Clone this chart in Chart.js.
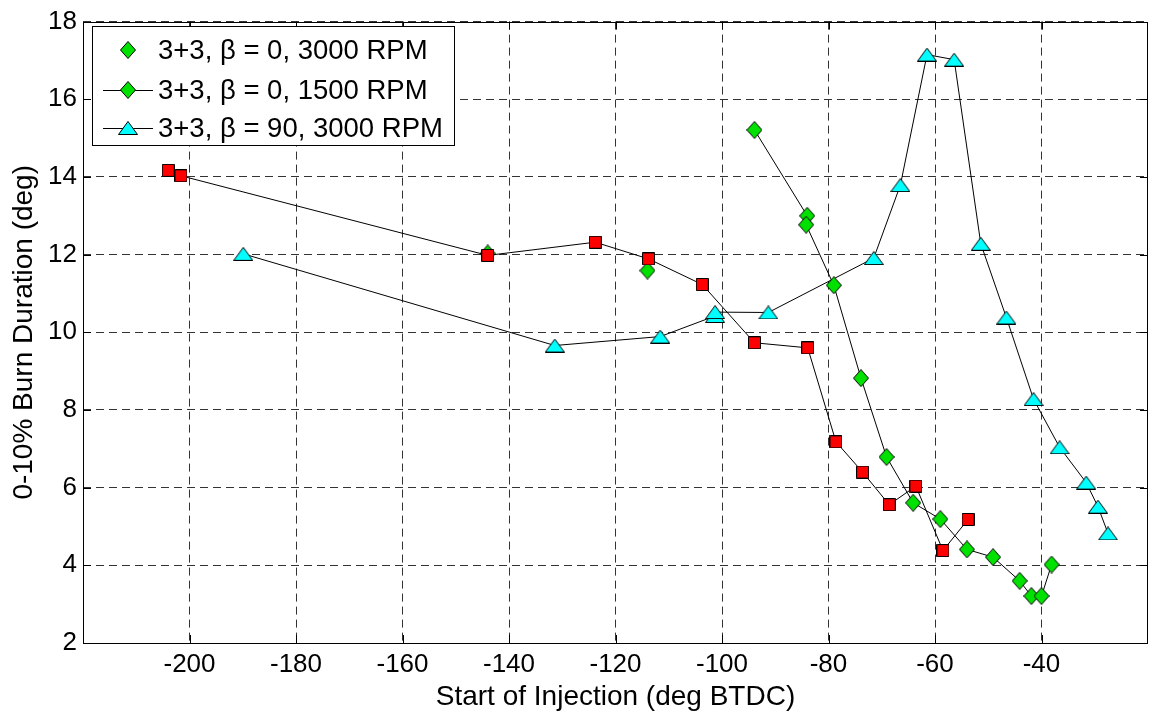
<!DOCTYPE html>
<html>
<head>
<meta charset="utf-8">
<script src="https://cdn.jsdelivr.net/npm/chart.js@4/dist/chart.umd.min.js"></script>
<style>
  html, body { margin: 0; padding: 0; background: #fff; }
  #wrap { width: 1155px; height: 715px; }
</style>
</head>
<body>
<div id="wrap"><canvas id="burnChart" width="1155" height="715"></canvas></div>
<script>
// 3+3, beta = 0, 3000 RPM (markers only)
const g3000X = [-144.0, -114.0];
const g3000Y = [12.03, 11.59];

// 3+3, beta = 0, 1500 RPM
const g1500X = [-93.9, -84.0, -84.2, -79.0, -73.9, -69.1, -64.1, -59.0, -54.0, -49.1, -44.1, -41.9, -40.0, -38.1];
const g1500Y = [15.21, 13.0, 12.77, 11.21, 8.82, 6.79, 5.61, 5.19, 4.41, 4.21, 3.60, 3.21, 3.21, 4.02];

// 3+3, beta = 90, 3000 RPM
const cyanX = [-189.9, -131.4, -111.6, -101.3, -101.3, -91.3, -71.5, -66.5, -61.5, -56.4, -51.4, -46.6, -41.5, -36.6, -31.6, -29.4, -27.5];
const cyanY = [12.02, 9.66, 9.89, 10.42, 10.52, 10.51, 11.91, 13.79, 17.15, 17.02, 12.28, 10.38, 8.28, 7.04, 6.13, 5.51, 4.82];

// red squares (no legend entry)
const redX = [-204.0, -201.6, -144.0, -123.8, -113.8, -103.7, -93.9, -83.9, -78.6, -73.6, -68.6, -63.6, -58.5, -53.8];
const redY = [14.17, 14.03, 11.98, 12.32, 11.89, 11.23, 9.73, 9.60, 7.18, 6.40, 5.56, 6.04, 4.38, 5.18];

// axis ticks
const xTicks = [-200, -180, -160, -140, -120, -100, -80, -60, -40];
const yTicks = [2, 4, 6, 8, 10, 12, 14, 16, 18];

const legendLabels = ['3+3, \u03b2 = 0, 3000 RPM', '3+3, \u03b2 = 0, 1500 RPM', '3+3, \u03b2 = 90, 3000 RPM'];

const FONT = '"Liberation Sans", Arial, sans-serif';
const GREEN = '#00e100';

// small canvases used as marker images (MATLAB style markers)
function makeMarker(w, h, fill, pts) {
  const c = document.createElement('canvas');
  c.width = w;
  c.height = h;
  const ctx = c.getContext('2d');
  ctx.beginPath();
  pts.forEach(([px, py], i) => (i ? ctx.lineTo(px, py) : ctx.moveTo(px, py)));
  ctx.closePath();
  ctx.fillStyle = fill;
  ctx.fill();
  ctx.strokeStyle = '#000';
  ctx.lineWidth = 1;
  ctx.stroke();
  return c;
}
const diamond = makeMarker(16, 18, GREEN, [[8, 0.5], [15.5, 9], [8, 17.5], [0.5, 9]]);
const square = makeMarker(13, 13, '#ff0000', [[0.5, 0.5], [12.5, 0.5], [12.5, 12.5], [0.5, 12.5]]);
const triangle = makeMarker(20, 14, '#00ffff', [[10, 0.5], [19.5, 13.5], [0.5, 13.5]]);

const toPoints = (xs, ys) => xs.map((x, i) => ({ x: x, y: ys[i] }));

// frame: axes box plus inward tick marks
const framePlugin = {
  id: 'frame',
  afterDraw(chart) {
    const { ctx, chartArea: a, scales } = chart;
    ctx.save();
    ctx.strokeStyle = '#000';
    ctx.lineWidth = 1;
    ctx.beginPath();
    xTicks.forEach(v => {
      const px = Math.round(scales.x.getPixelForValue(v)) + 0.5;
      ctx.moveTo(px, a.bottom); ctx.lineTo(px, a.bottom - 8);
      ctx.moveTo(px, a.top); ctx.lineTo(px, a.top + 8);
    });
    yTicks.forEach(v => {
      const py = Math.round(scales.y.getPixelForValue(v)) + 0.5;
      ctx.moveTo(a.left, py); ctx.lineTo(a.left + 8, py);
      ctx.moveTo(a.right, py); ctx.lineTo(a.right - 8, py);
    });
    ctx.stroke();
    ctx.strokeRect(Math.round(a.left) + 0.5, Math.round(a.top) + 0.5,
      Math.round(a.right - a.left) - 1, Math.round(a.bottom - a.top));
    ctx.restore();
  }
};

// legend box in the upper left corner, drawn like MATLAB's
const legendPlugin = {
  id: 'matlabLegend',
  afterDraw(chart) {
    const ctx = chart.ctx;
    const box = { x: 92.5, y: 26.5, w: 362, h: 119 };
    const rows = [50, 90, 128];
    const markers = [diamond, diamond, triangle];
    const withLine = [false, true, true];
    ctx.save();
    ctx.fillStyle = '#fff';
    ctx.fillRect(box.x, box.y, box.w, box.h);
    ctx.strokeStyle = '#000';
    ctx.lineWidth = 1;
    ctx.strokeRect(box.x, box.y, box.w, box.h);
    rows.forEach((ry, i) => {
      if (withLine[i]) {
        ctx.beginPath();
        ctx.moveTo(103, ry + 0.5);
        ctx.lineTo(153, ry + 0.5);
        ctx.stroke();
      }
      const m = markers[i];
      ctx.drawImage(m, 128 - m.width / 2, ry - m.height / 2);
      ctx.fillStyle = '#000';
      ctx.font = '27.5px ' + FONT;
      ctx.textBaseline = 'middle';
      ctx.fillText(legendLabels[i], 158, ry + 1);
    });
    ctx.restore();
  }
};

const ctx = document.getElementById('burnChart').getContext('2d');
new Chart(ctx, {
  type: 'scatter',
  data: {
    datasets: [
      {
        label: 'red',
        data: toPoints(redX, redY),
        showLine: true,
        borderColor: '#000',
        borderWidth: 1,
        pointStyle: square,
        pointRadius: 6,
        order: 0
      },
      {
        label: legendLabels[1],
        data: toPoints(g1500X, g1500Y),
        showLine: true,
        borderColor: '#000',
        borderWidth: 1,
        pointStyle: diamond,
        pointRadius: 6,
        order: 1
      },
      {
        label: legendLabels[0],
        data: toPoints(g3000X, g3000Y),
        showLine: false,
        pointStyle: diamond,
        pointRadius: 6,
        order: 2
      },
      {
        label: legendLabels[2],
        data: toPoints(cyanX, cyanY),
        showLine: true,
        borderColor: '#000',
        borderWidth: 1,
        pointStyle: triangle,
        pointRadius: 6,
        order: 3
      }
    ]
  },
  options: {
    responsive: false,
    animation: false,
    events: [],
    layout: { padding: { top: 17, right: 1, left: 0, bottom: 0 } },
    plugins: {
      legend: { display: false },
      tooltip: { enabled: false }
    },
    scales: {
      x: {
        type: 'linear',
        min: -220,
        max: -20,
        afterBuildTicks: scale => { scale.ticks = xTicks.map(v => ({ value: v })); },
        afterFit: scale => { scale.height = 72; },
        grid: { color: '#333', lineWidth: 1, drawTicks: false },
        border: { display: false, dash: [8, 5] },
        ticks: { color: '#000', padding: 6, font: { family: FONT, size: 26 }, maxRotation: 0 },
        title: {
          display: true,
          text: 'Start of Injection (deg BTDC)',
          color: '#000',
          font: { family: FONT, size: 28 },
          padding: { top: 0, bottom: 1 }
        }
      },
      y: {
        type: 'linear',
        min: 2,
        max: 18,
        afterBuildTicks: scale => { scale.ticks = yTicks.map(v => ({ value: v })); },
        afterFit: scale => { scale.width = 83; },
        grid: { color: '#333', lineWidth: 1, drawTicks: false },
        border: { display: false, dash: [8, 5] },
        ticks: { color: '#000', padding: 6, font: { family: FONT, size: 26 } },
        title: {
          display: true,
          text: '0-10% Burn Duration (deg)',
          color: '#000',
          font: { family: FONT, size: 28 },
          padding: { top: 7, bottom: 0 }
        }
      }
    }
  },
  plugins: [framePlugin, legendPlugin]
});
</script>
</body>
</html>
